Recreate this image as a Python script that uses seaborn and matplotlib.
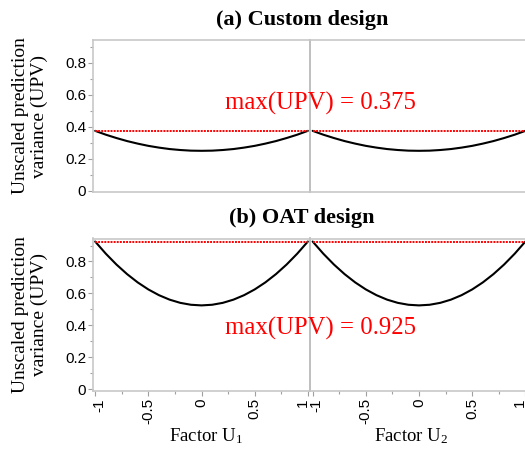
import matplotlib
matplotlib.use("Agg")
from matplotlib import pyplot as plt
from matplotlib.ticker import MultipleLocator
from matplotlib.transforms import ScaledTranslation
import seaborn as sns
import pandas as pd

# Values (UPV along each factor, other factor at centre)
factor_x = [-1.0, -0.9, -0.8, -0.7, -0.6, -0.5, -0.4, -0.3, -0.2, -0.1, 0.0,
            0.1, 0.2, 0.3, 0.4, 0.5, 0.6, 0.7, 0.8, 0.9, 1.0]
upv_custom = [0.375, 0.351, 0.330, 0.311, 0.295, 0.281, 0.270, 0.261, 0.255, 0.251, 0.250,
              0.251, 0.255, 0.261, 0.270, 0.281, 0.295, 0.311, 0.330, 0.351, 0.375]
upv_oat = [0.925, 0.849, 0.781, 0.721, 0.669, 0.625, 0.589, 0.561, 0.541, 0.529, 0.525,
           0.529, 0.541, 0.561, 0.589, 0.625, 0.669, 0.721, 0.781, 0.849, 0.925]
max_upv = [0.375, 0.925]
design_titles = ["(a) Custom design", "(b) OAT design"]
factor_labels = ["Factor U$_1$", "Factor U$_2$"]
x_ticks = [-1, -0.5, 0, 0.5, 1]
x_tick_labels = ["-1", "-0.5", "0", "0.5", "1"]
y_ticks = [0, 0.2, 0.4, 0.6, 0.8]
y_tick_labels = ["0", "0.2", "0.4", "0.6", "0.8"]

sns.set_style("white")
plt.rcParams["font.family"] = ["Liberation Sans", "DejaVu Sans"]
plt.rcParams["text.color"] = "black"
plt.rcParams["xtick.color"] = "black"
plt.rcParams["ytick.color"] = "black"
plt.rcParams["mathtext.fontset"] = "custom"
plt.rcParams["mathtext.rm"] = "Liberation Serif"
plt.rcParams["mathtext.it"] = "Liberation Serif"

serif = ["Liberation Serif", "DejaVu Serif"]
spine_grey = "#c8c8c8"
divider_grey = "#b4b4b4"

W, H = 525, 449
fig = plt.figure(figsize=(W / 100, H / 100), dpi=100)

# pixel geometry of the panels
col_left = [92.5, 310]
col_width = 217.5
row_top = [40, 238.5]
row_height = 152

curves = [upv_custom, upv_oat]

for r in range(2):
    df = pd.DataFrame({"x": factor_x, "upv": curves[r]})
    for c in range(2):
        ax = fig.add_axes([col_left[c] / W, 1 - (row_top[r] + row_height) / H,
                           col_width / W, row_height / H])
        sns.lineplot(data=df, x="x", y="upv", ax=ax, color="black", linewidth=1.5)
        ax.hlines(max_upv[r], df["x"].min(), df["x"].max(), colors="red",
                  linestyles=(0, (1, 0.6)), linewidth=1.4, zorder=3)
        ax.set_xlim(-1.025, 1.02)
        ax.set_ylim(-0.008, 0.944)
        ax.set_xlabel("")
        ax.set_ylabel("")

        for side in ["left", "top", "bottom", "right"]:
            ax.spines[side].set_color(spine_grey)
            ax.spines[side].set_linewidth(1.2)
        ax.spines["right"].set_visible(False)
        if c == 1:
            ax.spines["left"].set_color(divider_grey)

        ax.yaxis.set_minor_locator(MultipleLocator(0.1))
        ax.xaxis.set_minor_locator(MultipleLocator(0.25))
        ax.tick_params(which="both", direction="out", color="#a0a0a0", width=0.8,
                       bottom=True, left=True, top=False, right=False)
        ax.tick_params(which="major", length=3.5)
        ax.tick_params(which="minor", length=2)

        if c == 0:
            ax.set_yticks(y_ticks)
            ax.set_yticklabels(y_tick_labels, fontsize=11)
            ax.tick_params(axis="y", pad=1)
        else:
            ax.set_yticks([])
            ax.tick_params(axis="y", which="both", left=False, labelleft=False)

        if r == 1:
            ax.set_xticks(x_ticks)
            labels = ax.set_xticklabels(x_tick_labels, fontsize=11, rotation=90)
            ax.tick_params(axis="x", pad=2)
            # end labels are nudged inward, as in the original
            labels[0].set_transform(labels[0].get_transform() +
                                    ScaledTranslation(4 / 100, 0, fig.dpi_scale_trans))
            labels[-1].set_transform(labels[-1].get_transform() +
                                     ScaledTranslation(-5 / 100, 0, fig.dpi_scale_trans))
        else:
            ax.set_xticks([])
            ax.tick_params(axis="x", which="both", bottom=False, labelbottom=False)

    # panel title, y label and annotation
    fig.text(302 / W, 1 - (row_top[r] - 20) / H, design_titles[r], ha="center",
             va="center", fontsize=16, fontweight="bold", family=serif)
    fig.text(30 / W, 1 - (row_top[r] + 76) / H, "Unscaled prediction\nvariance (UPV)",
             rotation=90, ha="center", va="center", fontsize=14, family=serif,
             linespacing=1.15)

fig.text(320 / W, 1 - 103 / H, "max(UPV) = %.3f" % max_upv[0], ha="center", va="center",
         color="red", fontsize=17.8, family=serif)
fig.text(320 / W, 1 - 328 / H, "max(UPV) = %.3f" % max_upv[1], ha="center", va="center",
         color="red", fontsize=17.8, family=serif)

fig.text(206 / W, 1 - 436 / H, factor_labels[0], ha="center", va="center",
         fontsize=13.5, family=serif)
fig.text(411 / W, 1 - 436 / H, factor_labels[1], ha="center", va="center",
         fontsize=13.5, family=serif)

fig.savefig("out.png", dpi=100)
